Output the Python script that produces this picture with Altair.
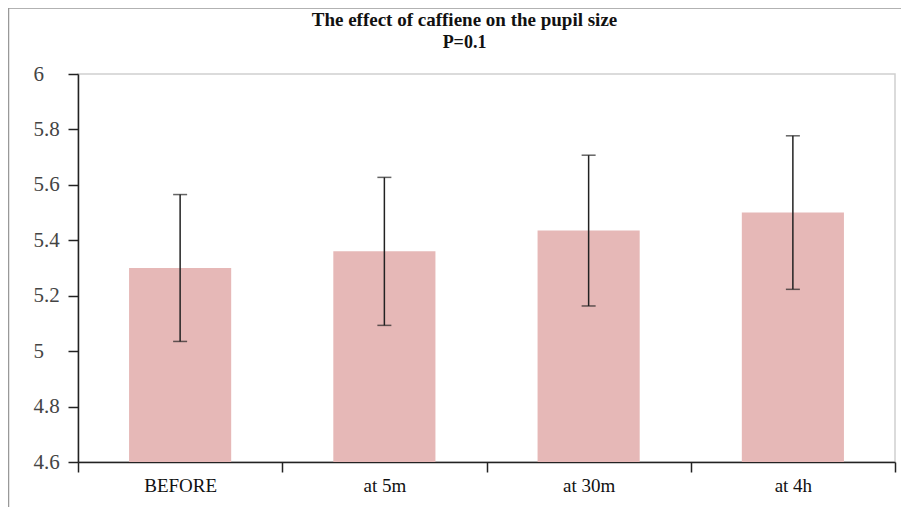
import altair as alt
import pandas as pd

categories = ["BEFORE", "at 5m", "at 30m", "at 4h"]
means = [5.30, 5.36, 5.435, 5.50]
errors = [0.265, 0.267, 0.272, 0.277]
y_ticks = [4.6, 4.8, 5.0, 5.2, 5.4, 5.6, 5.8, 6.0]

df = pd.DataFrame({"time": categories, "mean": means, "err": errors})
df["lo"] = df["mean"] - df["err"]
df["hi"] = df["mean"] + df["err"]

W, H = 817, 388
FONT = "Liberation Serif"

x_enc = alt.X(
    "time:N",
    sort=categories,
    title=None,
    scale=alt.Scale(paddingInner=0, paddingOuter=0),
    axis=alt.Axis(
        labelAngle=0,
        tickBand="extent",
        tickSize=10,
        labelPadding=4,
        labelFont=FONT,
        labelFontSize=19,
        labelColor="#111",
        domainColor="#222",
        tickColor="#222",
        domainWidth=1.5,
        tickWidth=1.5,
    ),
)
y_scale = alt.Scale(domain=[4.6, 6.0], nice=False, zero=False)
y_axis = alt.Axis(
    values=y_ticks,
    grid=False,
    tickSize=10,
    labelPadding=35,
    labelAlign="left",
    labelFont=FONT,
    labelFontSize=21,
    labelColor="#444",
    domainColor="#222",
    tickColor="#222",
    domainWidth=1.5,
    tickWidth=1.5,
    labelExpr="format(datum.value, '.1~f')",
)

base = alt.Chart(df)

bars = base.mark_bar(color="#e6b8b7", width=alt.RelativeBandSize(0.5)).encode(
    x=x_enc,
    y=alt.Y("mean:Q", scale=y_scale, axis=y_axis, title=None),
    y2=alt.Y2Datum(4.6),
)
stems = base.mark_rule(color="#222", strokeWidth=1.5).encode(
    x=alt.X("time:N", sort=categories),
    y="lo:Q",
    y2="hi:Q",
)
caps_hi = base.mark_tick(color="#222", thickness=1.5, size=14, orient="horizontal").encode(
    x=alt.X("time:N", sort=categories), y="hi:Q"
)
caps_lo = base.mark_tick(color="#222", thickness=1.5, size=14, orient="horizontal").encode(
    x=alt.X("time:N", sort=categories), y="lo:Q"
)

frame_top = alt.Chart(pd.DataFrame({"a": [0]})).mark_rule(color="#999", strokeWidth=1.5).encode(
    x=alt.value(-69.5), x2=alt.value(W + 20), y=alt.value(-66)
)
frame_left = alt.Chart(pd.DataFrame({"a": [0]})).mark_rule(color="#999", strokeWidth=1.5).encode(
    x=alt.value(-69.5), y=alt.value(-66), y2=alt.value(H + 60)
)

chart = (
    alt.layer(bars, stems, caps_hi, caps_lo, frame_top, frame_left)
    .properties(
        width=W,
        height=H,
        autosize=alt.AutoSizeParams(type="none"),
        padding={"left": 70, "top": 66, "right": 6, "bottom": 45},
        title=alt.TitleParams(
            text="The effect of caffiene on the pupil size",
            subtitle="P=0.1",
            font=FONT,
            fontSize=19,
            fontWeight="bold",
            color="#111",
            subtitleFont=FONT,
            subtitleFontSize=18,
            subtitleFontWeight="bold",
            subtitleColor="#111",
            subtitlePadding=4,
            anchor="middle",
            frame="group",
            dx=-22,
            offset=-45,
        ),
    )
    .configure_view(stroke="#d0d0d0", strokeWidth=1.5)
)

chart.save("out.html", embed_options={"renderer": "svg", "actions": False})
